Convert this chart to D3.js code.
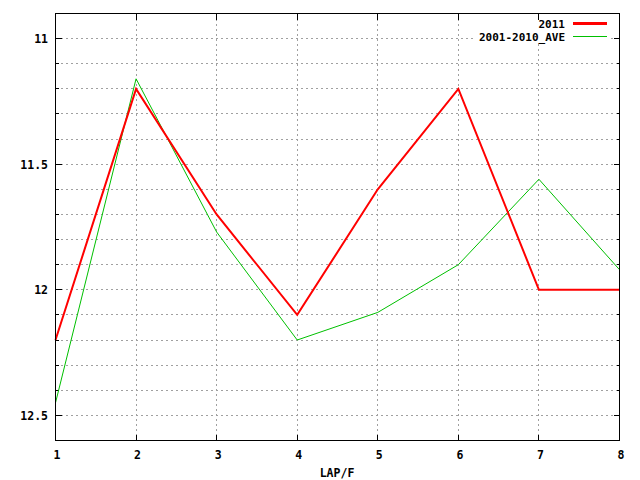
<!DOCTYPE html>
<html><head><meta charset="utf-8">
<script src="https://cdn.jsdelivr.net/npm/d3@7"></script>
<style>
body{margin:0;background:#fff;}
text{font-family:"DejaVu Sans Mono","Liberation Mono",monospace;font-weight:bold;font-size:11.5px;fill:#000;}
</style></head>
<body>
<svg id="c" width="640" height="480"></svg>
<script>
const laps = [1, 2, 3, 4, 5, 6, 7, 8];
const series2011 = [12.2, 11.2, 11.7, 12.1, 11.6, 11.2, 12.0, 12.0];
const seriesAve = [12.45, 11.16, 11.77, 12.2, 12.09, 11.9, 11.56, 11.92];
const yMajor = [11, 11.5, 12, 12.5];
const yMinor = [11.1, 11.2, 11.3, 11.4, 11.6, 11.7, 11.8, 11.9, 12.1, 12.2, 12.3, 12.4];
const seriesNames = ["2011", "2001-2010_AVE"];
const xLabel = "LAP/F";

const L = 55.5, R = 619.5, T = 13.5, B = 440.5;
const svg = d3.select("#c");
const x = d3.scaleLinear().domain([1, 8]).range([L, R]);
const y = d3.scaleLinear().domain([10.9, 12.6]).range([T, B]);

// grid
const g = svg.append("g").attr("stroke", "#a0a0a0").attr("stroke-width", 1)
  .attr("stroke-dasharray", "2,3").attr("shape-rendering", "crispEdges");
laps.slice(1, -1).forEach(v => g.append("line").attr("x1", x(v)).attr("x2", x(v)).attr("y1", T).attr("y2", B));
yMajor.concat(yMinor).forEach(v => g.append("line").attr("x1", L).attr("x2", R).attr("y1", y(v)).attr("y2", y(v)));

// legend background
svg.append("rect").attr("x", 474).attr("y", 17).attr("width", 134).attr("height", 26).attr("fill", "#fff");

// ticks
const t = svg.append("g").attr("stroke", "#000").attr("stroke-width", 1).attr("shape-rendering", "crispEdges");
yMajor.forEach(v => {
  t.append("line").attr("x1", L).attr("x2", L + 6).attr("y1", y(v)).attr("y2", y(v));
  t.append("line").attr("x1", R).attr("x2", R - 6).attr("y1", y(v)).attr("y2", y(v));
});
yMinor.forEach(v => {
  t.append("line").attr("x1", L).attr("x2", L + 3).attr("y1", y(v)).attr("y2", y(v));
  t.append("line").attr("x1", R).attr("x2", R - 3).attr("y1", y(v)).attr("y2", y(v));
});
laps.forEach(v => {
  t.append("line").attr("x1", x(v)).attr("x2", x(v)).attr("y1", B).attr("y2", B - 6);
  t.append("line").attr("x1", x(v)).attr("x2", x(v)).attr("y1", T).attr("y2", T + 6);
});

// tick labels
yMajor.forEach(v => svg.append("text").attr("x", 48).attr("y", y(v) + 4.5).attr("text-anchor", "end").text(String(v)));
laps.forEach(v => svg.append("text").attr("x", x(v) + 1.5).attr("y", 458.5).attr("text-anchor", "middle").text(String(v)));
svg.append("text").attr("x", 337).attr("y", 477).attr("text-anchor", "middle").text(xLabel);

// lines
const line = d3.line().x((d, i) => x(laps[i])).y(d => y(d));
svg.append("path").datum(seriesAve).attr("d", line).attr("fill", "none").attr("stroke", "#00c000").attr("stroke-width", 1);
svg.append("path").datum(series2011).attr("d", line).attr("fill", "none").attr("stroke", "#ff0000").attr("stroke-width", 2);

// legend
const colors = ["#ff0000", "#00c000"], widths = [2.5, 1];
seriesNames.forEach((n, i) => {
  const yy = 23.5 + i * 13;
  svg.append("text").attr("x", 565).attr("y", yy + 4).attr("text-anchor", "end")
    .style("font-size", "11px").text(n);
  svg.append("line").attr("x1", 573).attr("x2", 607).attr("y1", yy).attr("y2", yy)
    .attr("stroke", colors[i]).attr("stroke-width", widths[i]).attr("shape-rendering", "crispEdges");
});

// border
svg.append("rect").attr("x", L).attr("y", T).attr("width", R - L).attr("height", B - T)
  .attr("fill", "none").attr("stroke", "#000").attr("stroke-width", 1).attr("shape-rendering", "crispEdges");
</script>
</body></html>
